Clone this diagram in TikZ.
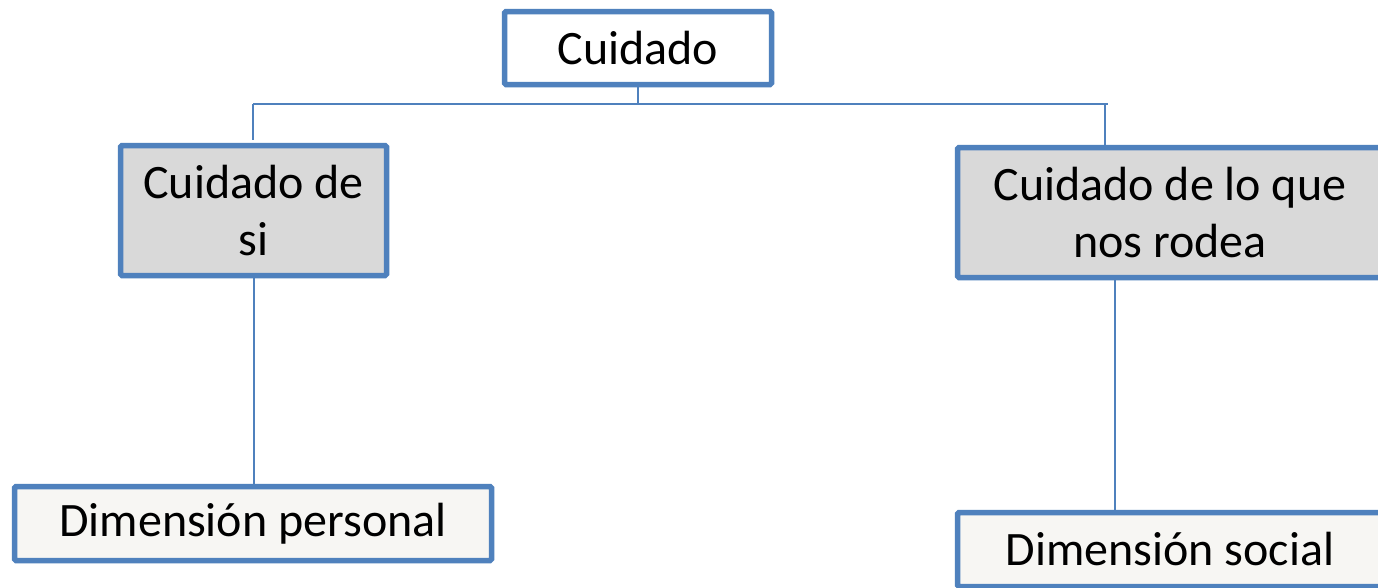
\documentclass[tikz,border=0pt]{standalone}
\usepackage{fontspec}
\setmainfont{Carlito}
\definecolor{bord}{HTML}{4F81BD}
\definecolor{grayfill}{HTML}{D9D9D9}
\definecolor{lightfill}{HTML}{F7F6F3}
\tikzset{
  box/.style={draw=bord, line width=5.5pt, rounded corners=1.5pt, inner sep=0pt, align=center,
    font=\fontsize{48}{57}\selectfont},
  conn/.style={draw=bord, line width=2pt}
}
\begin{document}
\begin{tikzpicture}[x=1pt,y=-1pt]
\useasboundingbox (0,0) rectangle (1378,587);
\clip (0,0) rectangle (1378,587);
\fill[white] (0,0) rectangle (1378,587);
\node[box, fill=white, minimum width=267pt, minimum height=73pt] (top) at (638,48) {Cuidado};
\node[box, fill=grayfill, minimum width=266pt, minimum height=130pt] (L) at (253.5,210.5) {Cuidado de\\si};
\node[box, fill=grayfill, minimum width=425pt, minimum height=130pt] (R) at (1170,212.5) {Cuidado de lo que\\nos rodea};
\node[box, fill=lightfill, minimum width=477pt, minimum height=74pt] (BL) at (253,523.5) {Dimensión personal};
\node[box, fill=lightfill, minimum width=425pt, minimum height=74pt] (BR) at (1170,549.5) {Dimensión social};
\coordinate (bar) at (638,104);
\coordinate (barL) at (253,104);
\coordinate (barR) at (1108,104);
\coordinate (rdrop) at (1105,104);
\coordinate (rb) at (1115,275);
\draw[conn] (top.south) -- (bar);
\draw[conn] (barL) -- (barR);
\draw[conn] (barL) -- ([yshift=2.5pt]barL |- L.north);
\draw[conn] (rdrop) -- (rdrop |- R.north);
\draw[conn] (L.south) -- (L.south |- BL.north);
\draw[conn] (rb) -- (rb |- BR.north);
\end{tikzpicture}
\end{document}
